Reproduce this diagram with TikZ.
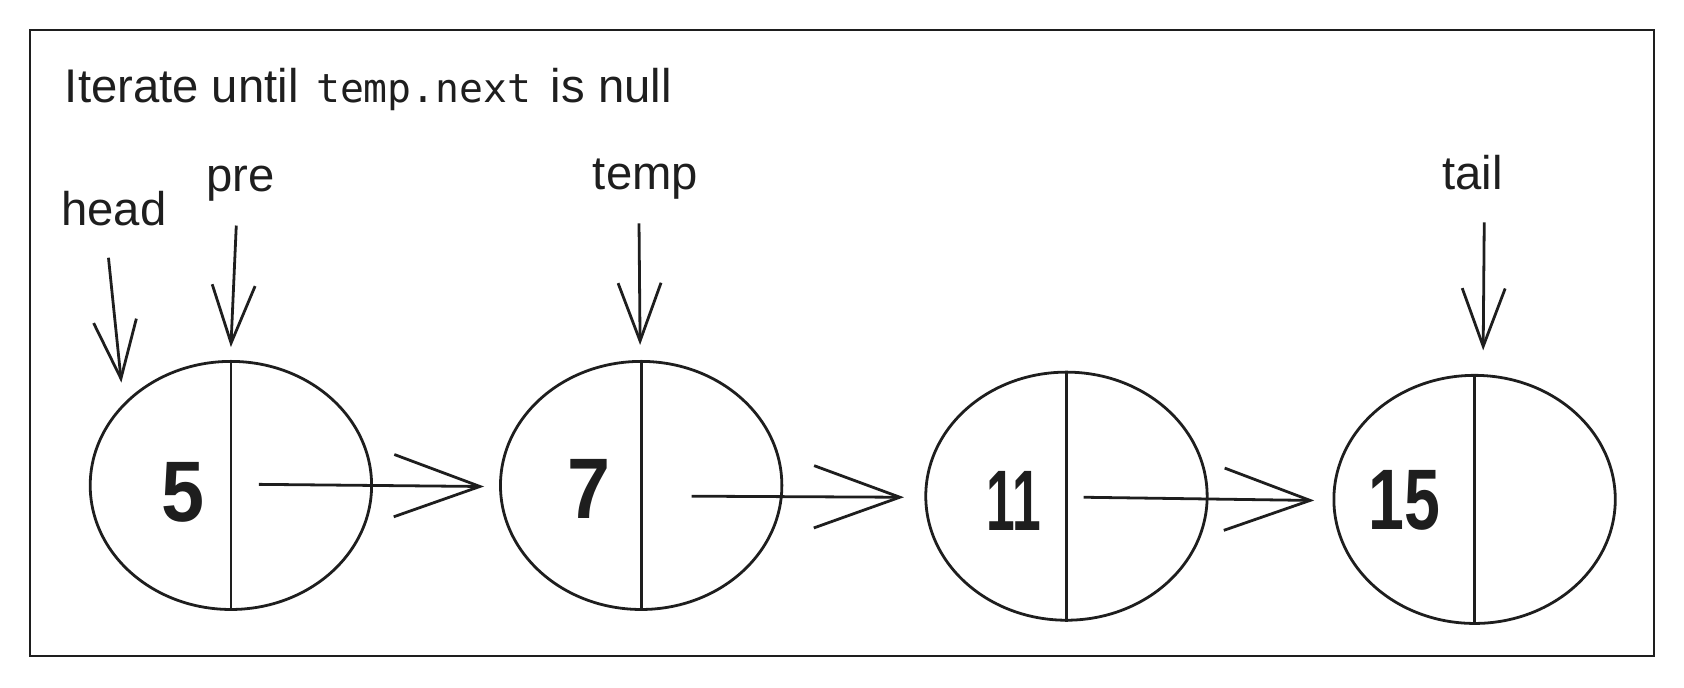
\documentclass[tikz,border=0pt]{standalone}
\usepackage{fontspec}
\setmainfont{Liberation Sans}
\newfontfamily\monofont{DejaVu Sans Mono}
\usetikzlibrary{shapes.geometric,arrows.meta}
\definecolor{ink}{HTML}{1E1E1E}
\begin{document}
\begin{tikzpicture}[x=0.5pt,y=-0.5pt,
  frame/.style={draw=ink, line width=1.1pt},
  listnode/.style={ellipse, draw=ink, line width=1.3pt, minimum width=131pt, minimum height=115.5pt, inner sep=0pt},
  divider/.style={draw=ink, line width=1.3pt},
  ptr/.style={draw=ink, line width=1.3pt, -{Straight Barb[length=27pt,width=20pt]}},
  link/.style={draw=ink, line width=1.3pt, -{Straight Barb[length=40pt,width=29pt]}},
  lbl/.style={text=ink, font=\fontsize{22}{26}\selectfont, inner sep=0pt, anchor=base},
  num/.style={text=ink, font=\fontsize{40}{44}\selectfont\bfseries, inner sep=0pt}]
\useasboundingbox (0,0) rectangle (1568,640);
\draw[frame] (28,28) rectangle (1540,611);
\node[lbl, anchor=base west] (title) at (60,95) {Iterate until\hspace{2pt} {\monofont\fontsize{18.5}{22}\selectfont temp.next}\hspace{3pt} is null};
% list nodes
\node[listnode] (n1) at (215,452) {};
\node[listnode] (n2) at (597,452) {};
\node[listnode] (n3) at (993,462) {};
\node[listnode] (n4) at (1373,465) {};
\draw[divider] (n1.north) -- (n1.south);
\draw[divider] (n2.north) -- (n2.south);
\draw[divider] (n3.north) -- (n3.south);
\draw[divider] (n4.north) -- (n4.south);
\node[num] (v1) at (170,458) {\scalebox{0.9}[1]{5}};
\node[num] (v2) at (548,455) {\scalebox{0.9}[1]{7}};
\node[num] (v3) at (944,466) {\scalebox{0.6}[1]{11}};
\node[num] (v4) at (1308,466) {\scalebox{0.75}[1]{15}};
% links
\draw[link] ([shift={(26,-1)}]n1.center) -- ([shift={(-14,1)}]n2.west);
\draw[link] ([shift={(47,10)}]n2.center) -- ([shift={(-19,1)}]n3.west);
\draw[link] ([shift={(16,1)}]n3.center) -- ([shift={(-17,1)}]n4.west);
% pointer labels
\node[lbl] (head) at (106,210) {head};
\node[lbl] (pre) at (224,178) {pre};
\node[lbl] (temp) at (601,176) {temp};
\node[lbl] (tail) at (1371,176) {tail};
\draw[ptr] ([shift={(-5,30)}]head.base) -- ([shift={(-102,21)}]n1.north);
\draw[ptr] ([shift={(-4,32)}]pre.base) -- ([shift={(0,-12)}]n1.north);
\draw[ptr] ([shift={(-6,32)}]temp.base) -- ([shift={(-1,-14)}]n2.north);
\draw[ptr] ([shift={(11,31)}]tail.base) -- ([shift={(8,-22)}]n4.north);
\end{tikzpicture}
\end{document}
